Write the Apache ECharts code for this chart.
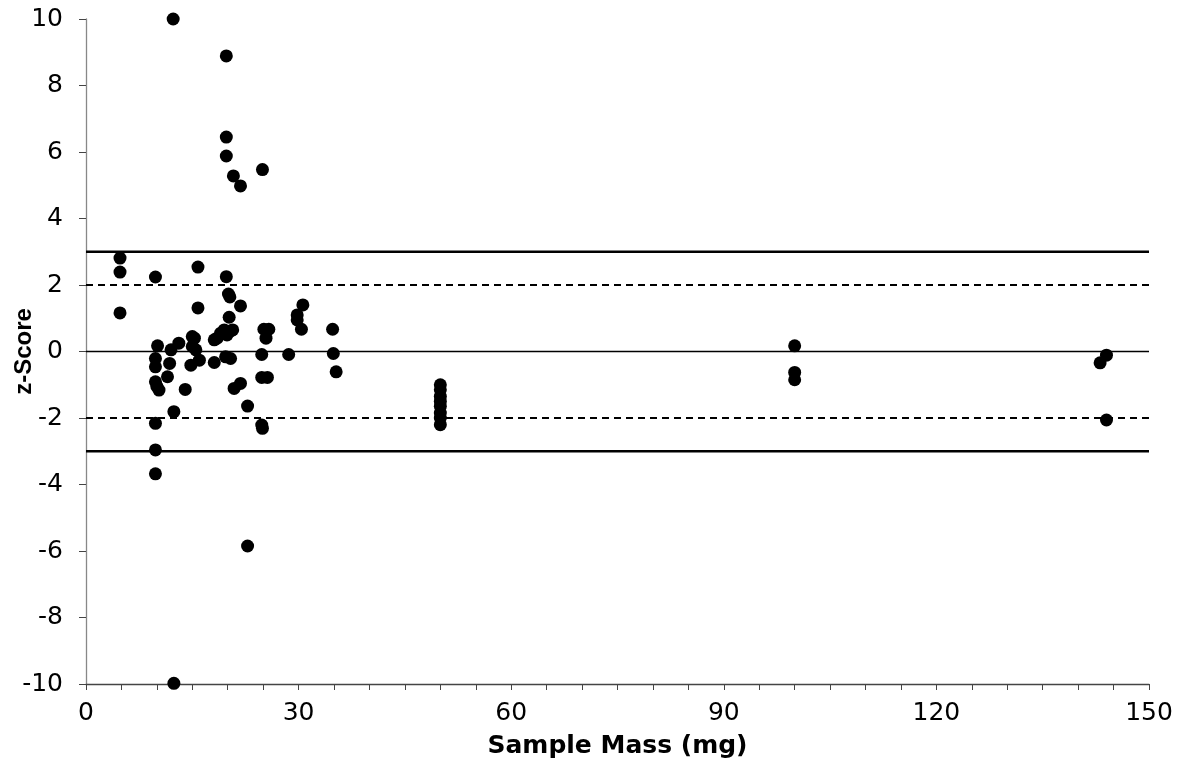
<!DOCTYPE html>
<html><head><meta charset="utf-8">
<script src="https://cdn.jsdelivr.net/npm/echarts@6/dist/echarts.min.js"></script>
<style>html,body{margin:0;padding:0;background:#fff}#c{width:1183px;height:767px}</style>
</head><body><div id="c"></div>
<script>
// Sample mass (mg)
const massValues = [
  12.3, 19.8, 19.8, 19.8, 20.8, 24.9, 21.8,
  4.8, 4.8, 4.8, 9.8, 15.8, 19.8, 20.1, 20.3, 21.8, 15.8, 20.2,
  19.5, 20.7, 19.0, 18.5, 18.1, 19.9, 20.4,
  10.1, 12.0, 13.1, 15.0, 15.3, 15.0, 15.5,
  9.8, 9.8, 11.8, 9.8, 10.3, 10.0, 11.5, 14.0, 12.4, 9.8,
  14.8, 16.0, 18.1, 19.7, 20.4, 20.9, 21.8, 22.8,
  25.1, 25.8, 25.4, 30.6, 29.8, 29.8, 30.4, 34.8,
  24.8, 28.6, 34.9, 35.3, 24.8, 25.6, 24.8, 24.9,
  9.8, 9.8, 22.8, 12.4,
  50, 50, 50, 50, 50, 50, 50, 50,
  100, 100, 100, 144.0, 143.1, 144.0
];
// z-Score
const zValues = [
  10.0, 8.89, 6.45, 5.88, 5.28, 5.47, 4.98,
  2.81, 2.39, 1.16, 2.24, 2.54, 2.25, 1.73, 1.64, 1.37, 1.31, 1.03,
  0.65, 0.65, 0.55, 0.40, 0.35, 0.50, 0.62,
  0.17, 0.05, 0.25, 0.45, 0.40, 0.15, 0.05,
  -0.21, -0.46, -0.36, -0.91, -1.16, -1.05, -0.76, -1.14, -1.81, -2.16,
  -0.41, -0.26, -0.33, -0.16, -0.21, -1.11, -0.96, -1.64,
  0.67, 0.67, 0.40, 1.40, 1.10, 0.95, 0.67, 0.67,
  -0.09, -0.09, -0.06, -0.61, -0.78, -0.78, -2.21, -2.31,
  -2.96, -3.68, -5.85, -9.98,
  -1.0, -1.15, -1.35, -1.5, -1.65, -1.85, -2.0, -2.2,
  0.17, -0.63, -0.85, -0.11, -0.34, -2.06
];
// Reference limit lines
const xRange = [0, 150];
const actionLimits = [3, -3];
const warningLimits = [2, -2];
const centerLine = 0;

const pts = massValues.map((m, i) => [m, zValues[i]]);
const hline = v => xRange.map(x => [x, v]);
const wideFont = '"DejaVu Sans", sans-serif';
const narrowFont = '"Liberation Sans", Arial, sans-serif';

const series = [];
actionLimits.forEach(v => series.push({type:'line', data:hline(v), symbol:'none', silent:true,
  lineStyle:{color:'#000', width:2.5, type:'solid'}, z:1}));
warningLimits.forEach(v => series.push({type:'line', data:hline(v), symbol:'none', silent:true,
  lineStyle:{color:'#000', width:2, type:[7,5]}, z:1}));
series.push({type:'line', data:hline(centerLine), symbol:'none', silent:true,
  lineStyle:{color:'#000', width:1.5}, z:1});
series.push({type:'scatter', data:pts, symbol:'circle', symbolSize:13,
  itemStyle:{color:'#000', opacity:1}, z:3});

const chart = echarts.init(document.getElementById('c'));
chart.setOption({
  animation:false,
  backgroundColor:'#fff',
  grid:{left:86, right:34, top:19, bottom:83, containLabel:false, outerBoundsMode:'none'},
  xAxis:{type:'value', min:0, max:150, interval:30,
    name:'Sample Mass (mg)', nameLocation:'middle', nameGap:50, nameMoveOverlap:false,
    nameTextStyle:{fontFamily:wideFont, fontSize:25, fontWeight:'bold', color:'#000'},
    axisLine:{show:true, onZero:false, lineStyle:{color:'#444', width:1.3}},
    axisTick:{show:true, inside:false, length:6, lineStyle:{color:'#444'}},
    minorTick:{show:true, splitNumber:6, length:6, lineStyle:{color:'#444', width:1}},
    axisLabel:{fontFamily:wideFont, fontSize:25, color:'#000', margin:17},
    splitLine:{show:false}},
  yAxis:{type:'value', min:-10, max:10, interval:2,
    name:'z-Score', nameLocation:'middle', nameGap:50, nameRotate:90, nameMoveOverlap:false,
    nameTextStyle:{fontFamily:narrowFont, fontSize:24, fontWeight:'bold', color:'#000'},
    axisLine:{show:true, onZero:false, lineStyle:{color:'#888', width:1.3}},
    axisTick:{show:true, inside:false, length:7, lineStyle:{color:'#444'}},
    axisLabel:{fontFamily:wideFont, fontSize:25, color:'#000', margin:23},
    splitLine:{show:false}},
  series:series
});
</script></body></html>
